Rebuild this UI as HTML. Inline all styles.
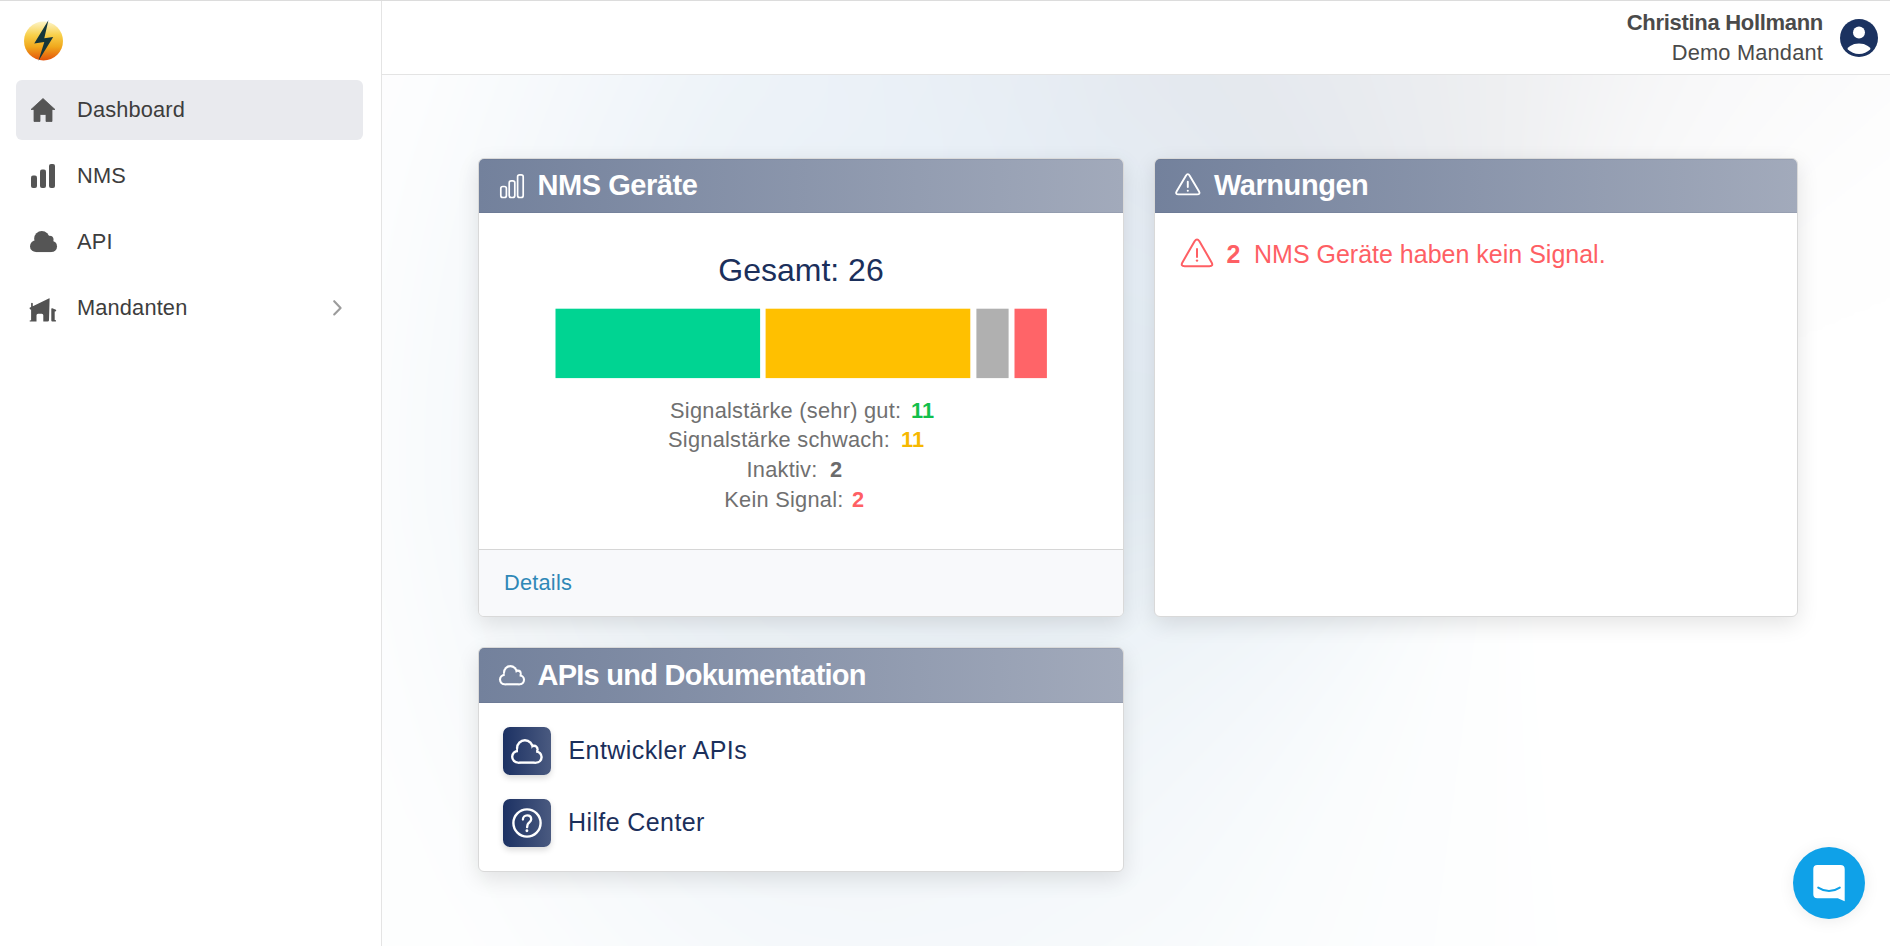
<!DOCTYPE html>
<html><head><meta charset="utf-8">
<style>
*{box-sizing:border-box;margin:0;padding:0}
html,body{width:1890px;height:946px;overflow:hidden;background:#fff;font-family:"Liberation Sans",sans-serif}
.a{position:absolute;white-space:nowrap}
#topline{left:0;top:0;width:1890px;height:1px;background:#dcdcdc}
#sideborder{left:381px;top:1px;width:1px;height:945px;background:#e4e4e4}
#headborder{left:382px;top:74px;width:1508px;height:1px;background:#e4e4e4}
#main{left:382px;top:75px;width:1508px;height:871px;overflow:hidden;background:#fdfdfd}
#bgc{left:-200px;top:-200px;width:1908px;height:1271px;filter:blur(30px);
 background:radial-gradient(circle at 1318px 575px,rgba(255,255,255,0) 0px,rgba(255,255,255,0) 500px,rgba(255,255,255,0.3) 850px,rgba(255,255,255,0.92) 1150px),
 conic-gradient(from 0deg at 1318px 575px,#eeeff1 0deg,#f8f8f9 28deg,#fefefe 55deg,#ffffff 90deg,#ffffff 170deg,#fafcfd 205deg,#f0f5f9 235deg,#e3ecf3 268deg,#e6eef6 298deg,#e4e8ee 322deg,#eeeff1 360deg)}
.nav{left:16px;width:347px;height:60px;border-radius:6px}
.nav.active{background:#e9eaee}
.navtxt{font-size:21.8px;color:#3d3d3d;letter-spacing:0.15px;line-height:21.8px}
.card{position:absolute;background:#fff;border:1px solid #d9d9d9;border-radius:6px;overflow:hidden;box-shadow:0 7px 22px rgba(0,0,0,0.11)}
.chead{position:absolute;left:0;top:0;right:0;height:54px;background:linear-gradient(90deg,#73819c,#a2aabb);box-shadow:inset 0 1px rgba(40,50,80,0.08),inset 0 -1px rgba(40,50,80,0.08)}
.ctitle{font-size:29px;font-weight:bold;color:#fff;line-height:29px;letter-spacing:-0.45px}
.stat{font-size:21.8px;color:#707070;letter-spacing:0.25px;line-height:21.8px}
.num{font-weight:bold;letter-spacing:0}
</style></head>
<body>
<div id="topline" class="a"></div>
<div id="sideborder" class="a"></div>
<div id="headborder" class="a"></div>
<div id="main" class="a"><div id="bgc" class="a"></div></div>

<!-- logo -->
<svg class="a" style="left:20px;top:18px" width="48" height="46" viewBox="0 0 48 46">
  <defs>
    <linearGradient id="lg" x1="0" y1="0" x2="0" y2="1"><stop offset="0" stop-color="#fdf4c8"/><stop offset="0.35" stop-color="#f8d04a"/><stop offset="0.65" stop-color="#f0a81c"/><stop offset="1" stop-color="#e4520a"/></linearGradient>
  </defs>
  <circle cx="23.5" cy="23" r="19.5" fill="url(#lg)"/>
  <path d="M28.4 2.2 L14.2 25.4 L24.3 23.9 L18.4 43 L33.2 18.9 L24.3 20.3 Z" fill="#15363a"/>
</svg>

<!-- nav -->
<div class="a nav active" style="top:80px"></div>
<svg class="a" style="left:30px;top:97px" width="26" height="26" viewBox="0 0 26 26"><path d="M13 1.5 L1 12.5 H4 V24.5 H10 V17.5 H16 V24.5 H22 V12.5 H25 Z" fill="#555" stroke="#555" stroke-width="0.8" stroke-linejoin="round"/></svg>
<div class="a navtxt" style="left:77px;top:98.5px">Dashboard</div>

<svg class="a" style="left:31px;top:164px" width="24" height="24" viewBox="0 0 24 24"><rect x="0" y="11.5" width="6" height="12.5" rx="2" fill="#555"/><rect x="9" y="5.5" width="6" height="18.5" rx="2" fill="#555"/><rect x="18" y="0" width="6" height="24" rx="2" fill="#555"/></svg>
<div class="a navtxt" style="left:77px;top:164.8px">NMS</div>

<svg class="a" style="left:26.5px;top:228.4px" width="33.0" height="27.1" viewBox="0 0 33.0 27.1"><g transform="translate(3,3) scale(0.85)"><circle cx="7.0" cy="17.8" r="7.0" fill="#555"/><circle cx="13.9" cy="9.1" r="9.0" fill="#555"/><circle cx="23.0" cy="10.3" r="4.7" fill="#555"/><circle cx="25.1" cy="18.1" r="6.7" fill="#555"/><rect x="7.0" y="9.5" width="18.10" height="15.30" fill="#555"/></g></svg>
<div class="a navtxt" style="left:77px;top:230.8px">API</div>

<svg class="a" style="left:25px;top:292px" width="40" height="35" viewBox="0 0 40 35"><path d="M4.6 15.7 L6.1 15.1 L6.1 11.2 Q6.9 10.3 7.8 11.2 L7.8 14.3 L23.8 6.4 Q24.9 6 24.6 7.3 L24 28.2 Q23.9 29.6 22.5 29.6 L18.3 29.6 L18.3 23.3 Q18.3 21.8 16.8 21.8 L13 21.8 Q11.5 21.8 11.5 23.3 L11.5 29.6 L5.6 29.6 Q4.3 29.6 4.7 28.4 L6.1 28.2 L6.1 17.4 L5.2 17.4 Q4.3 16.6 4.6 15.7 Z M26.3 17 Q26.3 16 27.3 16.3 L30.9 17.8 Q31.6 18.6 30.9 19.2 L29.7 19.6 L29.7 28.1 L30.9 28.2 Q31.5 29.6 30.5 29.6 L27.3 29.6 Q26.3 29.6 26.3 28.6 Z" fill="#525252"/></svg>
<div class="a navtxt" style="left:77px;top:296.5px">Mandanten</div>
<svg class="a" style="left:330px;top:298px" width="14" height="20" viewBox="0 0 14 20"><path d="M4.2 3.2 L10.6 9.9 L4.2 16.5" stroke="#9c9c9c" stroke-width="2.1" fill="none" stroke-linecap="round" stroke-linejoin="round"/></svg>

<!-- header user -->
<div class="a" style="right:67px;top:12.4px;font-size:22px;font-weight:bold;color:#4a4a4a;line-height:22px;letter-spacing:-0.3px">Christina Hollmann</div>
<div class="a" style="right:67px;top:42.3px;font-size:21.8px;color:#4a4a4a;line-height:21.8px;letter-spacing:0.18px">Demo Mandant</div>
<svg class="a" style="left:1840px;top:19px" width="38" height="38" viewBox="0 0 38 38">
  <defs><clipPath id="uc"><circle cx="19" cy="19" r="16"/></clipPath></defs>
  <circle cx="19" cy="19" r="19" fill="#1b3260"/>
  <g clip-path="url(#uc)"><circle cx="19" cy="13.5" r="6" fill="#fff"/><ellipse cx="19" cy="33" rx="12.5" ry="8.5" fill="#fff"/></g>
</svg>

<!-- NMS card -->
<div class="card" style="left:478px;top:158px;width:646px;height:459px">
  <div class="chead"></div>
  <div class="a" style="left:0;top:390px;width:644px;height:1px;background:#d6d6d6"></div>
  <div class="a" style="left:0;top:391px;width:644px;height:70px;background:#f8f9fb"></div>
</div>
<svg class="a" style="left:499px;top:173px" width="26" height="26" viewBox="0 0 26 26"><rect x="1.8" y="13.5" width="5.6" height="11" rx="2" fill="none" stroke="#fff" stroke-width="1.7"/><rect x="10.2" y="7.8" width="5.6" height="16.7" rx="2" fill="none" stroke="#fff" stroke-width="1.7"/><rect x="18.6" y="1.8" width="5.6" height="22.7" rx="2" fill="none" stroke="#fff" stroke-width="1.7"/></svg>
<div class="a ctitle" style="left:537.5px;top:170.5px">NMS Geräte</div>
<div class="a" style="left:478px;width:646px;top:253.9px;text-align:center;font-size:32px;line-height:32px;color:#1b2f5b">Gesamt: 26</div>
<svg class="a" style="left:540px;top:300px" width="520" height="90" viewBox="540 300 520 90"><rect x="555.5" y="308.7" width="204.6" height="69.4" fill="#00d492"/><rect x="765.6" y="308.7" width="204.7" height="69.4" fill="#ffc000"/><rect x="976.4" y="308.7" width="32.2" height="69.4" fill="#b0b0b0"/><rect x="1014.5" y="308.7" width="32.4" height="69.4" fill="#ff6468"/></svg>
<div class="a stat" style="left:670px;top:399.5px">Signalstärke (sehr) gut:</div><div class="a stat num" style="left:911px;top:399.5px;color:#12bf4b">11</div>
<div class="a stat" style="left:668px;top:429.2px">Signalstärke schwach:</div><div class="a stat num" style="left:901px;top:429.2px;color:#f6b800">11</div>
<div class="a stat" style="left:746.5px;top:459.4px">Inaktiv:</div><div class="a stat num" style="left:830px;top:459.4px;color:#6b6b6b">2</div>
<div class="a stat" style="left:724.3px;top:489.4px">Kein Signal:</div><div class="a stat num" style="left:852px;top:489.4px;color:#ff5f64">2</div>
<div class="a" style="left:504px;top:571.5px;font-size:21.8px;line-height:21.8px;color:#2f88b7;letter-spacing:0.2px">Details</div>

<!-- Warnungen card -->
<div class="card" style="left:1154px;top:158px;width:644px;height:459px">
  <div class="chead"></div>
</div>
<svg class="a" style="left:1173px;top:171px" width="30" height="27" viewBox="0 0 30 27"><path d="M12.9 4.7 Q14.8 1.5 16.7 4.7 L25.9 20.3 Q27.7 23.4 24.1 23.4 H5.5 Q1.9 23.4 3.7 20.3 Z" fill="none" stroke="#fff" stroke-width="1.9" stroke-linejoin="round"/><path d="M14.8 10.8 V16" stroke="#fff" stroke-width="1.9" stroke-linecap="round"/><circle cx="14.8" cy="19.8" r="1.05" fill="#fff"/></svg>
<div class="a ctitle" style="left:1214px;top:171.2px">Warnungen</div>
<svg class="a" style="left:1180px;top:238px" width="34" height="31" viewBox="0 0 34 31"><path d="M14.6 3.2 Q17 -0.4 19.4 3.2 L31.6 24.4 Q33.6 28.2 29.4 28.2 H4.6 Q0.4 28.2 2.4 24.4 Z" fill="none" stroke="#fe5f64" stroke-width="2" stroke-linejoin="round"/><path d="M17 11 V19" stroke="#fe5f64" stroke-width="2" stroke-linecap="round"/><circle cx="17" cy="22.6" r="1.2" fill="#fe5f64"/></svg>
<div class="a" style="left:1226.5px;top:241.7px;font-size:25px;line-height:25px;font-weight:bold;color:#fe5f64">2</div>
<div class="a" style="left:1254px;top:241.7px;font-size:25px;line-height:25px;color:#fe5f64;letter-spacing:0px">NMS Geräte haben kein Signal.</div>

<!-- APIs card -->
<div class="card" style="left:478px;top:647px;width:646px;height:225px">
  <div class="chead" style="height:55px"></div>
</div>
<svg class="a" style="left:495.8px;top:661.5px" width="32.1" height="26.3" viewBox="0 0 32.1 26.3"><defs><mask id="c1" maskUnits="userSpaceOnUse" x="0" y="0" width="32.1" height="26.3"><g transform="translate(3,3) scale(0.82)"><circle cx="7.0" cy="17.8" r="7.00" fill="#fff"/><circle cx="13.9" cy="9.1" r="9.00" fill="#fff"/><circle cx="23.0" cy="10.3" r="4.70" fill="#fff"/><circle cx="25.1" cy="18.1" r="6.70" fill="#fff"/><rect x="7.0" y="9.5" width="18.10" height="15.30" fill="#fff"/><circle cx="7.0" cy="17.8" r="4.44" fill="#000"/><circle cx="13.9" cy="9.1" r="6.44" fill="#000"/><circle cx="23.0" cy="10.3" r="2.14" fill="#000"/><circle cx="25.1" cy="18.1" r="4.14" fill="#000"/><rect x="7.0" y="9.5" width="18.10" height="12.74" fill="#000"/></g></mask></defs><rect x="0" y="0" width="32.1" height="26.3" fill="#fff" mask="url(#c1)"/></svg>
<div class="a ctitle" style="left:537.5px;top:660.5px;letter-spacing:-0.75px">APIs und Dokumentation</div>

<div class="a" style="left:503px;top:727px;width:48px;height:48px;border-radius:7px;background:linear-gradient(90deg,#1c3163,#4a5a80);box-shadow:0 3px 6px rgba(0,0,0,0.15)"></div>
<svg class="a" style="left:508.1px;top:735.5px" width="37.8" height="30.8" viewBox="0 0 37.8 30.8"><defs><mask id="c2" maskUnits="userSpaceOnUse" x="0" y="0" width="37.8" height="30.8"><g transform="translate(3,3) scale(1.0)"><circle cx="7.0" cy="17.8" r="7.00" fill="#fff"/><circle cx="13.9" cy="9.1" r="9.00" fill="#fff"/><circle cx="23.0" cy="10.3" r="4.70" fill="#fff"/><circle cx="25.1" cy="18.1" r="6.70" fill="#fff"/><rect x="7.0" y="9.5" width="18.10" height="15.30" fill="#fff"/><circle cx="7.0" cy="17.8" r="4.60" fill="#000"/><circle cx="13.9" cy="9.1" r="6.60" fill="#000"/><circle cx="23.0" cy="10.3" r="2.30" fill="#000"/><circle cx="25.1" cy="18.1" r="4.30" fill="#000"/><rect x="7.0" y="9.5" width="18.10" height="12.90" fill="#000"/></g></mask></defs><rect x="0" y="0" width="37.8" height="30.8" fill="#fff" mask="url(#c2)"/></svg>
<div class="a" style="left:568.5px;top:737.7px;font-size:25px;line-height:25px;color:#1b2f5b;letter-spacing:0.42px">Entwickler APIs</div>

<div class="a" style="left:503px;top:799px;width:48px;height:48px;border-radius:7px;background:linear-gradient(90deg,#1c3163,#4a5a80);box-shadow:0 3px 6px rgba(0,0,0,0.15)"></div>
<svg class="a" style="left:511px;top:807px" width="32" height="32" viewBox="0 0 32 32"><circle cx="16" cy="16" r="13.6" fill="none" stroke="#fff" stroke-width="2.4"/><path d="M11.9 12.6 C11.9 10 13.8 8.3 16.1 8.3 C18.5 8.3 20.2 9.9 20.2 12.2 C20.2 14.7 17.6 15.4 16.6 17.6 L16.1 20.2" fill="none" stroke="#fff" stroke-width="2.3" stroke-linecap="round"/><circle cx="15.9" cy="23.7" r="1.45" fill="#fff"/></svg>
<div class="a" style="left:568px;top:810.1px;font-size:25px;line-height:25px;color:#1b2f5b;letter-spacing:0.4px">Hilfe Center</div>

<!-- chat button -->
<div class="a" style="left:1793px;top:847px;width:72px;height:72px;border-radius:50%;background:#0fa1e8;box-shadow:0 2px 16px rgba(0,0,0,0.08)"></div>
<svg class="a" style="left:1811px;top:862px" width="36" height="42" viewBox="0 0 36 42"><path d="M6.3 3 H29.5 Q33.7 3 33.7 7 V39.2 L26.8 36.2 H6.3 Q2.3 36.2 2.3 32.2 V7 Q2.3 3 6.3 3 Z" fill="#fff"/><path d="M7.2 25.6 Q18 32.6 28.8 25.6" stroke="#0fa1e8" stroke-width="2" fill="none" stroke-linecap="round"/></svg>
</body></html>
